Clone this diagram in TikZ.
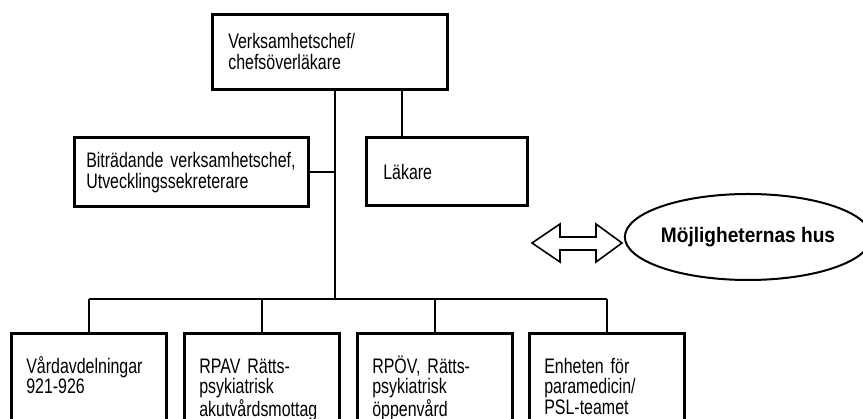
\documentclass[tikz,border=0pt]{standalone}
\usepackage{fontspec}
\setmainfont{Liberation Sans}[FakeStretch=0.76]
\newfontfamily\husfont{Liberation Sans}[FakeStretch=0.91]
\usetikzlibrary{shapes.geometric,positioning}

\begin{document}
\begin{tikzpicture}[
x=1pt,y=-1pt,
unit/.style={
  draw,
  line width=2.6pt,
  anchor=north west,
  align=left,
  inner ysep=0pt,
  inner xsep=15pt,
  font=\fontsize{21}{21.5}\selectfont
  },
lower/.style={
  unit,
  font=\fontsize{21}{20.5}\selectfont,
  minimum width=155pt,
  text width=125pt,
  text height=40pt,
  text depth=100pt
  },
link/.style={
  line width=2pt
  }
]
\useasboundingbox (0,0) rectangle (863,419);
\clip (0,0) rectangle (863,419);

% ledning
\node[unit,minimum width=235pt,inner xsep=16pt,text width=203pt,
  text height=34pt,text depth=41pt]
  (chef) at (211,13) {Verksamhetschef/\\chefsöverläkare};
\node[unit,minimum width=234pt,inner xsep=12pt,text width=210pt,
  text height=30pt,text depth=39pt]
  (bitr) at (73,136) {Biträdande verksamhetschef,\\Utvecklingssekreterare};
\node[unit,minimum width=161pt,inner xsep=17pt,text width=127pt,
  text height=42pt,text depth=26pt]
  (lakare) at (365,136) {Läkare};

% enheter
\node[lower] (enh1) at (10,332) {Vårdavdelningar\\921-926};
\node[lower] (enh2) at (183,332) {RPAV Rätts-\\psykiatrisk\\akutvårdsmottag};
\node[lower] (enh3) at (356,332) {RPÖV, Rätts-\\psykiatrisk\\öppenvård};
\node[lower] (enh4) at (528,332) {Enheten för\\paramedicin/\\PSL-teamet};

\node[ellipse,draw,line width=2pt,minimum width=224pt,minimum height=86pt,
  inner sep=0pt,font=\husfont\bfseries\fontsize{21}{21}\selectfont]
  (hus) at (748,237) {Möjligheternas hus};

\draw[line width=1.6pt,line join=miter]
  (532,243) -- (560,224) -- (560,237) -- (596,237) -- (596,224) -- (622,243)
  -- (596,262) -- (596,250) -- (560,250) -- (560,262) -- cycle;

\coordinate (bus) at (335,299);
\coordinate (lakline) at (402,120);
\draw[link] (chef.south -| bus) -- (bus);
\draw[link] (chef.south -| lakline) -- (lakare.north -| lakline);
\draw[link] (bitr.east) -- (bitr.east -| bus);
\draw[link] (enh1.north |- bus) -- (enh4.north |- bus);
\foreach \e in {1,...,4}
  \draw[link] (enh\e.north |- bus) -- (enh\e.north);
\end{tikzpicture}
\end{document}
